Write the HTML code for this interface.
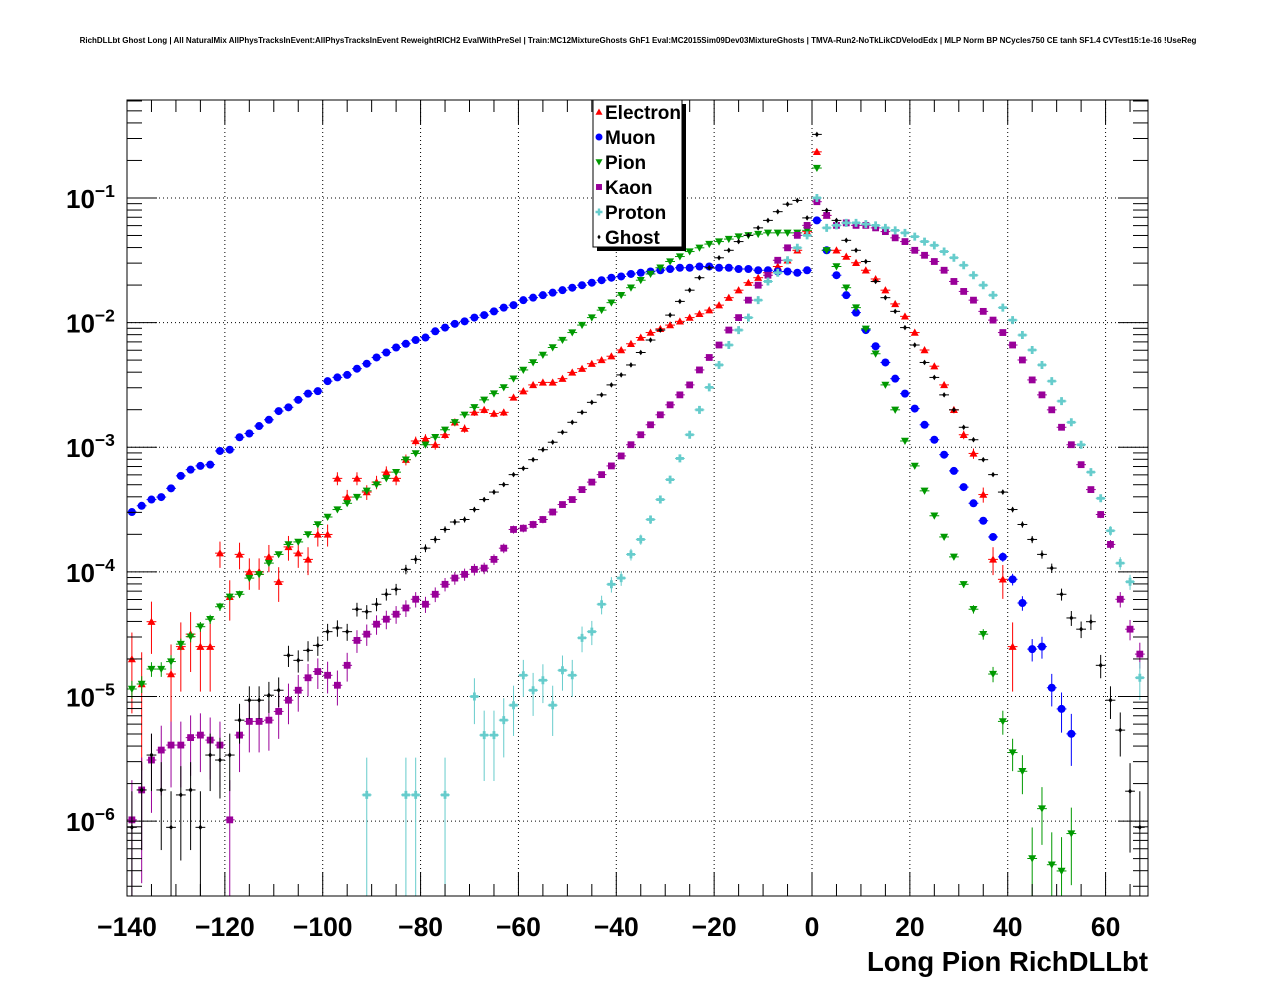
<!DOCTYPE html>
<html><head><meta charset="utf-8"><style>
html,body{margin:0;padding:0;background:#fff;}
svg{display:block;font-family:"Liberation Sans",sans-serif;}
</style></head><body>
<svg id="chart" width="1276" height="996" viewBox="0 0 1276 996" xmlns="http://www.w3.org/2000/svg">
<rect x="0" y="0" width="1276" height="996" fill="#fff"/>
<text x="638" y="43" font-size="8" font-weight="bold" text-anchor="middle">RichDLLbt Ghost Long | All NaturalMix AllPhysTracksInEvent:AllPhysTracksInEvent ReweightRICH2 EvalWithPreSel | Train:MC12MixtureGhosts GhF1 Eval:MC2015Sim09Dev03MixtureGhosts | TMVA-Run2-NoTkLikCDVelodEdx | MLP Norm BP NCycles750 CE tanh SF1.4 CVTest15:1e-16 !UseReg</text>
<g id="grid"></g>
<g id="series"></g>
<g id="axes"></g>
<text x="1148" y="971" font-size="27.5" font-weight="bold" text-anchor="end">Long Pion RichDLLbt</text>
<g id="legend">
<rect x="597" y="104" width="89" height="147" fill="#000"/>
<rect x="593" y="100" width="89" height="147" fill="#fff" stroke="#000" stroke-width="1"/>
</g>
</svg>
<script>
// ---- data (log10 of normalized fraction per bin; bins of width 2, first centre -139) ----
const binStart = -139;
const binWidth = 2;
const xTicks = [-140, -120, -100, -80, -60, -40, -20, 0, 20, 40, 60];
const yDecades = [-6, -5, -4, -3, -2, -1];
const seriesNames = ["Electron", "Muon", "Pion", "Kaon", "Proton", "Ghost"];
const N = null;
const electronLog = [
-4.70,-4.90,-4.40,N,-4.82,-4.60,-4.50,-4.60,-4.60,-3.85,
-4.20,-3.86,-4.00,-4.00,-3.88,-4.08,-3.80,-3.85,-3.90,-3.70,
-3.70,-3.25,-3.40,-3.25,-3.36,-3.28,-3.20,-3.25,-3.10,-2.95,
-2.93,-2.98,-2.90,-2.80,-2.85,-2.72,-2.70,-2.73,-2.72,-2.60,
-2.55,-2.50,-2.48,-2.48,-2.45,-2.40,-2.37,-2.33,-2.30,-2.27,
-2.22,-2.17,-2.12,-2.08,-2.05,-2.02,-1.99,-1.96,-1.93,-1.90,
-1.86,-1.80,-1.74,-1.68,-1.64,-1.60,-1.55,-1.50,-1.42,-1.27,
-0.63,-1.14,-1.42,-1.47,-1.52,-1.58,-1.65,-1.74,-1.85,-1.95,
-2.08,-2.22,-2.35,-2.50,-2.70,-2.90,-3.05,-3.38,-3.90,-4.06,
-4.60,N,N,N,N,N,N,N,N,N,
N,N,N,N];
const muonLog = [
-3.52,-3.47,-3.42,-3.40,-3.33,-3.23,-3.18,-3.15,-3.14,-3.03,
-3.02,-2.92,-2.89,-2.83,-2.78,-2.71,-2.68,-2.62,-2.57,-2.55,
-2.47,-2.44,-2.42,-2.37,-2.33,-2.28,-2.24,-2.20,-2.17,-2.14,
-2.12,-2.07,-2.04,-2.01,-1.99,-1.96,-1.94,-1.91,-1.88,-1.86,
-1.82,-1.80,-1.78,-1.76,-1.74,-1.72,-1.70,-1.68,-1.66,-1.64,
-1.63,-1.61,-1.60,-1.59,-1.58,-1.57,-1.56,-1.56,-1.55,-1.55,
-1.56,-1.56,-1.57,-1.57,-1.58,-1.58,-1.59,-1.59,-1.60,-1.58,
-1.18,-1.42,-1.62,-1.78,-1.92,-2.06,-2.19,-2.32,-2.45,-2.57,
-2.69,-2.82,-2.94,-3.06,-3.19,-3.32,-3.45,-3.59,-3.72,-3.88,
-4.06,-4.25,-4.62,-4.60,-4.93,-5.10,-5.30,N,N,N,
N,N,N,N];
const pionLog = [
-4.94,-4.90,-4.78,-4.78,-4.72,-4.58,-4.52,-4.44,-4.38,-4.28,
-4.20,-4.18,-4.05,-4.02,-3.93,-3.86,-3.78,-3.76,-3.70,-3.62,
-3.56,-3.50,-3.45,-3.40,-3.35,-3.30,-3.25,-3.20,-3.10,-3.05,
-2.98,-2.92,-2.86,-2.80,-2.74,-2.68,-2.62,-2.57,-2.52,-2.45,
-2.38,-2.32,-2.26,-2.20,-2.14,-2.08,-2.02,-1.96,-1.90,-1.84,
-1.78,-1.72,-1.66,-1.61,-1.56,-1.51,-1.47,-1.43,-1.40,-1.37,
-1.35,-1.33,-1.31,-1.30,-1.29,-1.28,-1.28,-1.28,-1.28,-1.26,
-0.76,-1.42,-1.55,-1.72,-1.88,-2.05,-2.25,-2.50,-2.70,-2.95,
-3.15,-3.35,-3.55,-3.72,-3.88,-4.10,-4.30,-4.50,-4.82,-5.20,
-5.45,-5.60,-6.30,-5.90,-6.35,-6.40,-6.10,N,N,N,
N,N,N,N];
const kaonLog = [
-5.99,-5.75,-5.51,-5.43,-5.39,-5.39,-5.33,-5.31,-5.35,-5.39,
-5.99,-5.31,-5.20,-5.20,-5.19,-5.12,-5.03,-4.95,-4.85,-4.80,
-4.83,-4.91,-4.75,-4.55,-4.50,-4.42,-4.38,-4.34,-4.29,-4.22,
-4.26,-4.18,-4.10,-4.05,-4.02,-3.98,-3.97,-3.90,-3.81,-3.66,
-3.65,-3.62,-3.58,-3.52,-3.46,-3.42,-3.34,-3.28,-3.22,-3.15,
-3.07,-2.98,-2.90,-2.82,-2.74,-2.66,-2.58,-2.50,-2.38,-2.28,
-2.18,-2.06,-1.96,-1.82,-1.70,-1.62,-1.50,-1.40,-1.30,-1.22,
-1.03,-1.14,-1.22,-1.20,-1.22,-1.22,-1.24,-1.27,-1.32,-1.35,
-1.42,-1.46,-1.51,-1.58,-1.67,-1.75,-1.82,-1.91,-1.98,-2.08,
-2.18,-2.30,-2.46,-2.58,-2.70,-2.84,-2.98,-3.14,-3.34,-3.54,
-3.78,-4.22,-4.46,-4.66];
const protonLog = [
N,N,N,N,N,N,N,N,N,N,
N,N,N,N,N,N,N,N,N,N,
N,N,N,N,-5.79,N,N,N,-5.79,-5.79,
N,N,-5.79,N,N,-5.00,-5.31,-5.31,-5.19,-5.07,
-4.83,-4.95,-4.87,-5.07,-4.79,-4.83,-4.53,-4.48,-4.26,-4.10,
-4.05,-3.86,-3.74,-3.58,-3.42,-3.26,-3.09,-2.90,-2.70,-2.52,
-2.34,-2.18,-2.06,-1.96,-1.82,-1.67,-1.60,-1.50,-1.40,-1.30,
-1.00,-1.24,-1.22,-1.20,-1.20,-1.21,-1.22,-1.24,-1.26,-1.28,
-1.31,-1.35,-1.38,-1.43,-1.48,-1.54,-1.62,-1.70,-1.78,-1.88,
-1.98,-2.10,-2.22,-2.34,-2.47,-2.63,-2.80,-2.98,-3.20,-3.41,
-3.67,-3.93,-4.08,-4.85];
const ghostLog = [
-6.05,-5.75,-5.47,-5.75,-6.05,-5.79,-5.75,-6.05,-5.47,-5.51,
-5.47,-5.19,-5.03,-5.03,-4.99,-4.95,-4.67,-4.71,-4.63,-4.59,
-4.48,-4.45,-4.48,-4.30,-4.32,-4.26,-4.18,-4.14,-3.98,-3.90,
-3.81,-3.74,-3.66,-3.60,-3.58,-3.50,-3.42,-3.36,-3.30,-3.22,
-3.17,-3.10,-3.02,-2.96,-2.88,-2.80,-2.72,-2.64,-2.58,-2.50,
-2.42,-2.34,-2.24,-2.14,-2.06,-1.94,-1.83,-1.74,-1.64,-1.56,
-1.48,-1.42,-1.35,-1.30,-1.24,-1.18,-1.11,-1.05,-1.02,-1.16,
-0.49,-1.10,-1.18,-1.34,-1.42,-1.51,-1.67,-1.80,-1.91,-2.04,
-2.18,-2.32,-2.44,-2.58,-2.70,-2.84,-2.94,-3.10,-3.22,-3.36,
-3.50,-3.62,-3.74,-3.86,-3.97,-4.18,-4.37,-4.46,-4.40,-4.75,
-5.03,-5.27,-5.76,-6.05];

// ---- axes ----
const X0 = 127, X1 = 1148, Y0 = 100, Y1 = 896;
const xMin = -140, xMax = 68.67;
const yMin = -6.601, yMax = -0.214;
function xs(v){ return X0 + (v - xMin) / (xMax - xMin) * (X1 - X0); }
function ys(l){ return Y1 - (l - yMin) / (yMax - yMin) * (Y1 - Y0); }

const NS = "http://www.w3.org/2000/svg";
function mk(tag, parent, attrs){
  const e = document.createElementNS(NS, tag);
  for (const k in attrs) e.setAttribute(k, attrs[k]);
  parent.appendChild(e);
  return e;
}
const grid = document.getElementById('grid');
const axes = document.getElementById('axes');
const ser = document.getElementById('series');
const legend = document.getElementById('legend');

// grid
xTicks.forEach(t => {
  const x = xs(t);
  if (x > X0 + 1 && x < X1 - 1) {
    const g = mk('line', grid, {x1:x, y1:Y0, x2:x, y2:Y1, stroke:'#000', 'stroke-width':1, 'stroke-dasharray':'1,3'});
    
    
  }
});
yDecades.forEach(d => {
  const y = ys(d);
  const g = mk('line', grid, {x1:X0, y1:y, x2:X1, y2:y, stroke:'#000', 'stroke-width':1, 'stroke-dasharray':'1,3'});
  
  
});

// series
const colors = ['#ff0000', '#0000ff', '#009900', '#990099', '#66cccc', '#000000'];
const weights = [8e-6, 1e-6, 3e-7, 1.2e-6, 1.6e-6, 8e-7];
const allData = [electronLog, muonLog, pionLog, kaonLog, protonLog, ghostLog];

function marker(parent, kind, cx, cy, col, s){
  let e;
  if (kind === 0) e = mk('polygon', parent, {points:`${cx},${cy-s} ${cx-s},${cy+s*0.8} ${cx+s},${cy+s*0.8}`, fill:col});
  else if (kind === 1) e = mk('circle', parent, {cx:cx, cy:cy, r:s, fill:col});
  else if (kind === 2) e = mk('polygon', parent, {points:`${cx},${cy+s} ${cx-s},${cy-s*0.8} ${cx+s},${cy-s*0.8}`, fill:col});
  else if (kind === 3) e = mk('rect', parent, {x:cx-s*0.85, y:cy-s*0.85, width:s*1.7, height:s*1.7, fill:col});
  else if (kind === 4) e = mk('path', parent, {d:`M${cx-s*0.35},${cy-s}h${s*0.7}v${s*0.65}h${s*0.65}v${s*0.7}h${-s*0.65}v${s*0.65}h${-s*0.7}v${-s*0.65}h${-s*0.65}v${-s*0.7}h${s*0.65}z`, fill:col});
  else e = mk('polygon', parent, {points:`${cx},${cy-s*0.8} ${cx+s*0.55},${cy} ${cx},${cy+s*0.8} ${cx-s*0.55},${cy}`, fill:col});
  return e;
}

allData.forEach((arr, si) => {
  const g = mk('g', ser, {});
  
  
  const col = colors[si];
  arr.forEach((l, i) => {
    if (l === null || l === undefined) return;
    const xc = binStart + i * binWidth;
    const cx = xs(xc);
    if (cx > X1) return;
    const v = Math.pow(10, l);
    const rel = Math.sqrt(weights[si] / v);
    const hi = Math.log10(v * (1 + rel));
    const lo = rel >= 1 ? yMin : Math.max(yMin, Math.log10(v * (1 - rel)));
    const cy = ys(l);
    const eb = mk('line', g, {x1:cx, y1:Math.max(Y0, ys(hi)), x2:cx, y2:Math.min(Y1, ys(lo)), stroke:col, 'stroke-width':1});
    
    
    const hb = mk('line', g, {x1:Math.max(X0, xs(xc - 1)), y1:cy, x2:Math.min(X1, xs(xc + 1)), y2:cy, stroke:col, 'stroke-width':1});
    
    
    if (cy < Y0 || cy > Y1) return;
    const m = marker(g, si, cx, cy, col, si === 5 ? 3.5 : 4);
    
    
  });
});

// frame
const fr = mk('rect', axes, {x:X0, y:Y0, width:X1-X0, height:Y1-Y0, fill:'none', stroke:'#000', 'stroke-width':1});



// x ticks
for (let t = -140; t <= 68; t += 5) {
  const x = xs(t);
  const major = (t % 20 === 0);
  const len = major ? 24 : 12;
  const a = mk('line', axes, {x1:x, y1:Y1, x2:x, y2:Y1-len, stroke:'#000', 'stroke-width':1});
  
  
  const b = mk('line', axes, {x1:x, y1:Y0, x2:x, y2:Y0+len, stroke:'#000', 'stroke-width':1});
  
  
}
xTicks.forEach(t => {
  const tx = mk('text', axes, {x:xs(t), y:936, 'font-size':26.5, 'font-weight':'bold', 'text-anchor':'middle'});
  tx.textContent = (t < 0 ? '\u2212' + (-t) : String(t));
  
  
});

// y ticks
for (let d = -7; d <= 0; d++) {
  for (let k = 1; k <= 9; k++) {
    const l = d + Math.log10(k);
    if (l < yMin || l > yMax) continue;
    const y = ys(l);
    const len = k === 1 ? 30 : 15;
    const a = mk('line', axes, {x1:X0, y1:y, x2:X0+len, y2:y, stroke:'#000', 'stroke-width':1});
    
    
    const b = mk('line', axes, {x1:X1, y1:y, x2:X1-len, y2:y, stroke:'#000', 'stroke-width':1});
    
    
  }
}
yDecades.forEach(d => {
  const y = ys(d);
  const tx = mk('text', axes, {x:66, y:y+10, 'font-size':26, 'font-weight':'bold'});
  
  
  const a = document.createElementNS(NS, 'tspan'); a.textContent = '10'; tx.appendChild(a);
  const b = document.createElementNS(NS, 'tspan');
  b.setAttribute('dy', -11); b.setAttribute('font-size', 17.5);
  b.textContent = '\u2212' + (-d); tx.appendChild(b);
});

// legend
seriesNames.forEach((n, i) => {
  const y = 112 + i * 25;
  const m = marker(legend, i, 599, y, colors[i], i === 5 ? 3 : 3.5);
  
  
  const t = mk('text', legend, {x:605, y:y+7, 'font-size':19, 'font-weight':'bold'});
  t.textContent = n;
  
  
});
</script>
</body></html>
